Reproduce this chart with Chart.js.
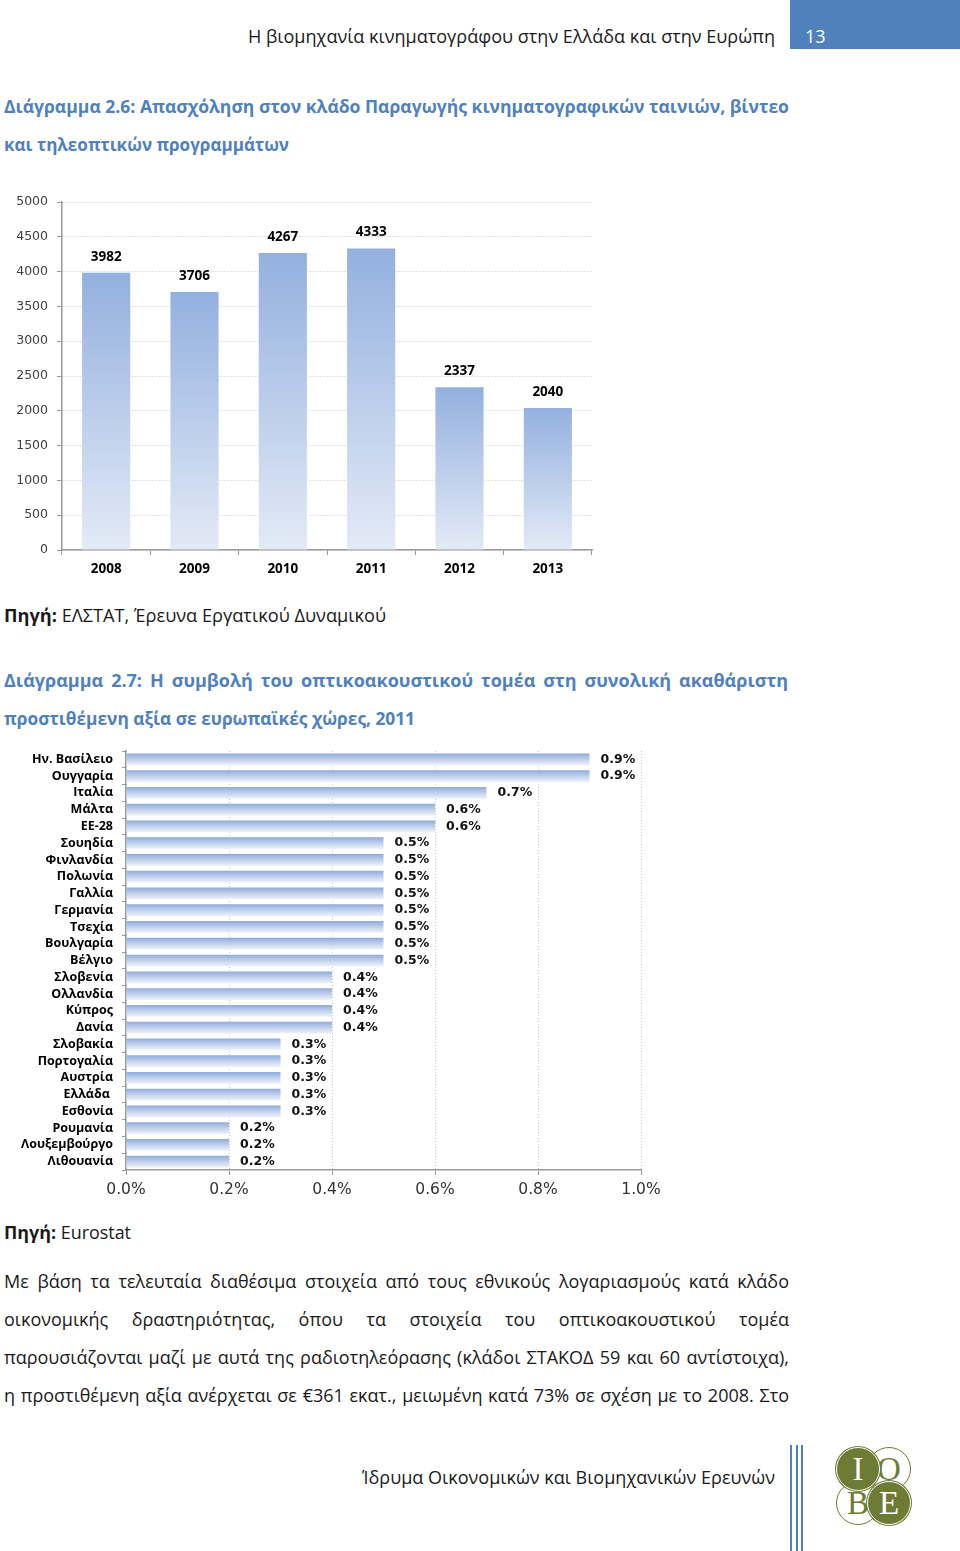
<!DOCTYPE html>
<html lang="el">
<head>
<meta charset="utf-8">
<script src="https://cdn.jsdelivr.net/npm/chart.js@4.4.1/dist/chart.umd.min.js"></script>
<style>
  html, body { margin:0; padding:0; background:#fff; }
  body { width:960px; height:1551px; position:relative; overflow:hidden; font-family:'Open Sans', sans-serif; color:#1a1a1a; }
  .ln { position:absolute; white-space:nowrap; display:inline-block; font-size:18px; line-height:24px; transform-origin:0 50%; }
  .hd { font-size:18px; }
  .tt { font-weight:bold; color:#4f81bd; font-size:18px; }
  b { font-weight:bold; }
  canvas { position:absolute; }
  #pagebox { position:absolute; left:790px; top:0; width:170px; height:49px; background:#4f81bd; }
  #pagenum { position:absolute; left:805px; top:24px; color:#fff; font-size:18px; line-height:24px; }
  .vl { position:absolute; top:1445px; height:106px; width:2px; background:#4f81bd; }
  .circ { position:absolute; width:44px; height:44px; border-radius:50%; box-sizing:border-box; font-family:'Liberation Serif', serif; font-size:33px; line-height:42px; text-align:center; }
  .fill { background:#6e7b34; color:#fff; border:1px solid #fff; box-shadow:0 0 0 1px #6e7b34; }
  .open { background:#fff; color:#6e7b34; border:1.5px solid #6e7b34; }
</style>
</head>
<body>
<div id="pagebox"></div>
<div id="pagenum">13</div>

<div class="ln hd" data-l="248" data-r="775" data-y="36">Η βιομηχανία κινηματογράφου στην Ελλάδα και στην Ευρώπη</div>

<div class="ln tt" data-l="4" data-r="789" data-y="106">Διάγραμμα 2.6: Απασχόληση στον κλάδο Παραγωγής κινηματογραφικών ταινιών, βίντεο</div>
<div class="ln tt" data-l="4" data-r="289" data-y="144">και τηλεοπτικών προγραμμάτων</div>

<canvas id="c1" width="610" height="400" style="left:0;top:190px;width:610px;height:400px"></canvas>

<div class="ln" data-l="4" data-r="386" data-y="615"><b>Πηγή:</b> ΕΛΣΤΑΤ, Έρευνα Εργατικού Δυναμικού</div>

<div class="ln tt" data-l="4" data-r="788" data-y="680" data-j="1">Διάγραμμα 2.7: Η συμβολή του οπτικοακουστικού τομέα στη συνολική ακαθάριστη</div>
<div class="ln tt" data-l="4" data-r="415" data-y="718">προστιθέμενη αξία σε ευρωπαϊκές χώρες, 2011</div>

<canvas id="c2" width="680" height="470" style="left:0;top:740px;width:680px;height:470px"></canvas>

<div class="ln" data-l="4" data-r="131" data-y="1232"><b>Πηγή:</b> Eurostat</div>

<div class="ln" data-l="4" data-r="789" data-y="1281" data-j="1">Με βάση τα τελευταία διαθέσιμα στοιχεία από τους εθνικούς λογαριασμούς κατά κλάδο</div>
<div class="ln" data-l="4" data-r="789" data-y="1319" data-j="1">οικονομικής δραστηριότητας, όπου τα στοιχεία του οπτικοακουστικού τομέα</div>
<div class="ln" data-l="4" data-r="789" data-y="1357" data-j="1">παρουσιάζονται μαζί με αυτά της ραδιοτηλεόρασης (κλάδοι ΣΤΑΚΟΔ 59 και 60 αντίστοιχα),</div>
<div class="ln" data-l="4" data-r="789" data-y="1395" data-j="1">η προστιθέμενη αξία ανέρχεται σε €361 εκατ., μειωμένη κατά 73% σε σχέση με το 2008. Στο</div>

<div class="ln hd" data-l="362" data-r="775" data-y="1477">Ίδρυμα Οικονομικών και Βιομηχανικών Ερευνών</div>

<div class="vl" style="left:790px"></div>
<div class="vl" style="left:796px"></div>
<div class="vl" style="left:801px"></div>

<div class="circ open" style="left:867px;top:1447px">O</div>
<div class="circ open" style="left:836px;top:1481px">B</div>
<div class="circ fill" style="left:836px;top:1447px">I</div>
<div class="circ fill" style="left:867px;top:1481px">E</div>

<script>
// ---------- Data ----------
const years = ['2008', '2009', '2010', '2011', '2012', '2013'];
const employment = [3982, 3706, 4267, 4333, 2337, 2040];
const employmentTicks = [0, 500, 1000, 1500, 2000, 2500, 3000, 3500, 4000, 4500, 5000];

const countries = ['Ην. Βασίλειο', 'Ουγγαρία', 'Ιταλία', 'Μάλτα', 'ΕΕ-28', 'Σουηδία', 'Φινλανδία',
  'Πολωνία', 'Γαλλία', 'Γερμανία', 'Τσεχία', 'Βουλγαρία', 'Βέλγιο', 'Σλοβενία', 'Ολλανδία',
  'Κύπρος', 'Δανία', 'Σλοβακία', 'Πορτογαλία', 'Αυστρία', 'Ελλάδα ', 'Εσθονία', 'Ρουμανία',
  'Λουξεμβούργο', 'Λιθουανία'];
const avShare = [0.9, 0.9, 0.7, 0.6, 0.6, 0.5, 0.5, 0.5, 0.5, 0.5, 0.5, 0.5, 0.5,
  0.4, 0.4, 0.4, 0.4, 0.3, 0.3, 0.3, 0.3, 0.3, 0.2, 0.2, 0.2];
const shareTicks = ['0.0%', '0.2%', '0.4%', '0.6%', '0.8%', '1.0%'];

// ---------- Text lines layout ----------
document.querySelectorAll('.ln').forEach(el => {
  const l = +el.dataset.l, r = +el.dataset.r, y = +el.dataset.y;
  el.style.left = l + 'px';
  const nat = el.getBoundingClientRect().width;
  const target = r - l;
  if (el.dataset.j && nat < target) {
    const spaces = (el.textContent.match(/ /g) || []).length;
    if (spaces) el.style.wordSpacing = ((target - nat) / spaces) + 'px';
  } else {
    el.style.transform = 'scaleX(' + (target / nat) + ')';
  }
  const h = el.getBoundingClientRect().height;
  el.style.top = (y - h / 2) + 'px';
});

// ---------- Chart 1 ----------
const labelPlugin1 = {
  id: 'vlabels1',
  afterDatasetsDraw(chart) {
    const ctx = chart.ctx;
    const meta = chart.getDatasetMeta(0);
    ctx.save();
    ctx.font = 'bold 13.5px "Open Sans"';
    ctx.fillStyle = '#000';
    ctx.textAlign = 'center';
    ctx.textBaseline = 'middle';
    meta.data.forEach((bar, i) => {
      ctx.fillText(String(employment[i]), bar.x, bar.y - 16);
    });
    ctx.restore();
  }
};

new Chart(document.getElementById('c1'), {
  type: 'bar',
  data: {
    labels: years,
    datasets: [{
      data: employment,
      borderWidth: 0,
      categoryPercentage: 1,
      barPercentage: 0.545,
      backgroundColor: (c) => {
        const chart = c.chart;
        const ys = chart.scales.y;
        if (!ys || !chart.chartArea || c.raw === undefined) return '#a9c0e6';
        const top = ys.getPixelForValue(c.raw);
        const base = ys.getPixelForValue(0);
        const g = chart.ctx.createLinearGradient(0, top, 0, base);
        g.addColorStop(0, '#93b0df');
        g.addColorStop(1, '#e3eaf6');
        return g;
      }
    }]
  },
  options: {
    responsive: false,
    animation: false,
    devicePixelRatio: 1,
    layout: { padding: { top: 12, right: 18, left: 0, bottom: 0 } },
    plugins: { legend: { display: false }, tooltip: { enabled: false } },
    scales: {
      x: {
        offset: true,
        grid: { drawOnChartArea: false, drawTicks: true, tickLength: 5, color: '#9a9a9a', offset: true },
        border: { color: '#9a9a9a', width: 1.5 },
        ticks: { font: { family: 'Open Sans', weight: 'bold', size: 13.5 }, color: '#000', padding: 6 },
        afterFit: (s) => { s.height = 40; s.paddingLeft = 0; s.paddingRight = 0; }
      },
      y: {
        min: 0, max: 5000,
        afterBuildTicks: (s) => { s.ticks = employmentTicks.map(v => ({ value: v })); },
        grid: { color: '#c4c4c4', lineWidth: 1, tickLength: 5, tickColor: '#9a9a9a', tickBorderDash: [] },
        border: { color: '#9a9a9a', width: 1.5, dash: [1, 2] },
        ticks: { font: { family: 'DejaVu Sans', size: 12.5 }, color: '#404040', padding: 9,
          callback: (v) => String(v) },
        afterFit: (s) => { s.width = 62; s.paddingTop = 0; s.paddingBottom = 0; }
      }
    }
  },
  plugins: [labelPlugin1]
});

// ---------- Chart 2 ----------
const labelPlugin2 = {
  id: 'vlabels2',
  afterDatasetsDraw(chart) {
    const ctx = chart.ctx;
    const meta = chart.getDatasetMeta(0);
    ctx.save();
    ctx.font = 'bold 12.5px "DejaVu Sans"';
    ctx.fillStyle = '#111';
    ctx.textAlign = 'left';
    ctx.textBaseline = 'middle';
    meta.data.forEach((bar, i) => {
      ctx.fillText(avShare[i].toFixed(1) + '%', bar.x + 11, bar.y);
    });
    ctx.restore();
  }
};

new Chart(document.getElementById('c2'), {
  type: 'bar',
  data: {
    labels: countries,
    datasets: [{
      data: avShare,
      borderWidth: 0,
      categoryPercentage: 1,
      barPercentage: 0.7,
      backgroundColor: (c) => {
        const chart = c.chart;
        const ys = chart.scales.y;
        if (!ys || !chart.chartArea) return '#b5c8ea';
        const yc = ys.getPixelForValue(c.dataIndex);
        const half = 0.7 * (chart.chartArea.bottom - chart.chartArea.top) / countries.length / 2;
        const g = chart.ctx.createLinearGradient(0, yc - half, 0, yc + half);
        g.addColorStop(0, '#8eaadb');
        g.addColorStop(0.35, '#b3c6e8');
        g.addColorStop(1, '#eef2fa');
        return g;
      }
    }]
  },
  options: {
    indexAxis: 'y',
    responsive: false,
    animation: false,
    devicePixelRatio: 1,
    layout: { padding: { top: 11, right: 39, left: 0, bottom: 0 } },
    plugins: { legend: { display: false }, tooltip: { enabled: false } },
    scales: {
      y: {
        offset: true,
        grid: { drawOnChartArea: false, drawTicks: true, tickLength: 4, color: '#9a9a9a', offset: true },
        border: { color: '#9a9a9a', width: 1.5 },
        ticks: { font: { family: 'Open Sans', weight: 'bold', size: 12.5 }, color: '#000', padding: 9, autoSkip: false },
        afterFit: (s) => { s.width = 126; s.paddingTop = 0; s.paddingBottom = 0; }
      },
      x: {
        min: 0, max: 1.0,
        afterBuildTicks: (s) => { s.ticks = shareTicks.map(t => ({ value: parseFloat(t) })); },
        grid: { color: '#c4c4c4', lineWidth: 1, tickLength: 5, tickColor: '#9a9a9a', tickBorderDash: [] },
        border: { color: '#9a9a9a', width: 1.5, dash: [1, 2] },
        ticks: { font: { family: 'DejaVu Sans', size: 15.5 }, color: '#333', padding: 6,
          callback: (v, i) => shareTicks[i] },
        afterFit: (s) => { s.height = 40; s.paddingLeft = 0; s.paddingRight = 0; }
      }
    }
  },
  plugins: [labelPlugin2]
});
</script>
</body>
</html>
